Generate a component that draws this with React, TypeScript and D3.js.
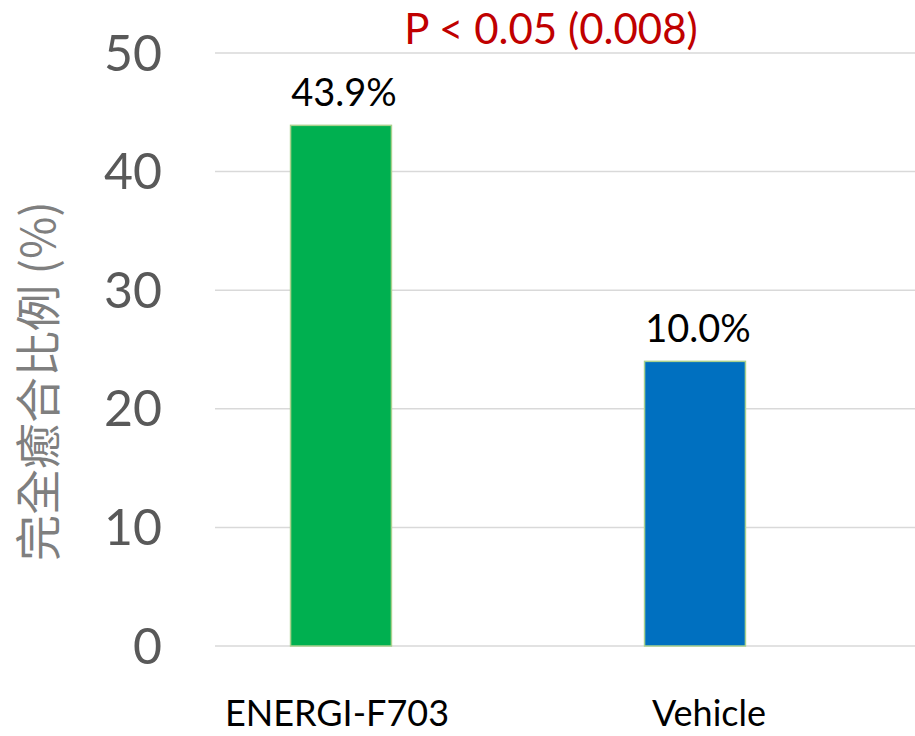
import * as d3 from "d3";

const categories = ["ENERGI-F703", "Vehicle"];
const values = [43.9, 24];
const valueLabels = ["43.9%", "10.0%"];
const barColors = ["#00B050", "#0070C0"];
const yTicks = [0, 10, 20, 30, 40, 50];
const yTitle = "完全癒合比例 (%)";
const pText = "P < 0.05 (0.008)";

const width = 915;
const height = 736;
const font = "Lato, 'Noto Sans', sans-serif";
// the category labels sit a little off the bar centres in the original
const catLabelShift = [-4, 14];

export default function App() {
  const x = d3
    .scaleBand<string>()
    .domain(categories)
    .range([164, 872])
    .paddingInner(0.715)
    .paddingOuter(0.3575);

  const y = d3.scaleLinear().domain([0, 50]).range([646, 53]);

  const gridLeft = 215;
  const gridRight = width;

  return (
    <svg
      width={width}
      height={height}
      style={{ position: "absolute", left: 0, top: 0, background: "#fff" }}
    >
      {yTicks.map((t) => (
        <g key={t}>
          <line
            x1={gridLeft}
            x2={gridRight}
            y1={y(t)}
            y2={y(t)}
            stroke="#d9d9d9"
            strokeWidth={1.5}
          />
          <text
            x={162}
            y={y(t)}
            dy="0.35em"
            textAnchor="end"
            fontFamily={font}
            fontSize={50}
            fill="#595959"
          >
            {t}
          </text>
        </g>
      ))}

      {categories.map((c, i) => {
        const cx = (x(c) ?? 0) + x.bandwidth() / 2;
        return (
          <g key={c}>
            <rect
              x={x(c)}
              y={y(values[i])}
              width={x.bandwidth()}
              height={y(0) - y(values[i])}
              fill={barColors[i]}
              stroke="#A9D18E"
              strokeWidth={1.5}
            />
            <text
              x={cx + 3}
              y={y(values[i]) - 19}
              textAnchor="middle"
              fontFamily={font}
              fontSize={38}
              fill="#000"
            >
              {valueLabels[i]}
            </text>
            <text
              x={cx + catLabelShift[i]}
              y={726}
              textAnchor="middle"
              fontFamily={font}
              fontSize={36}
              fill="#000"
            >
              {c}
            </text>
          </g>
        );
      })}

      <text
        x={551}
        y={44}
        textAnchor="middle"
        fontFamily={font}
        fontSize={42}
        fill="#C00000"
      >
        {pText}
      </text>

      <text
        transform={`translate(55, ${381}) rotate(-90)`}
        textAnchor="middle"
        fontFamily="'Noto Sans CJK TC', 'Noto Sans', sans-serif"
        fontSize={46}
        fill="#7f7f7f"
      >
        {yTitle}
      </text>
    </svg>
  );
}
